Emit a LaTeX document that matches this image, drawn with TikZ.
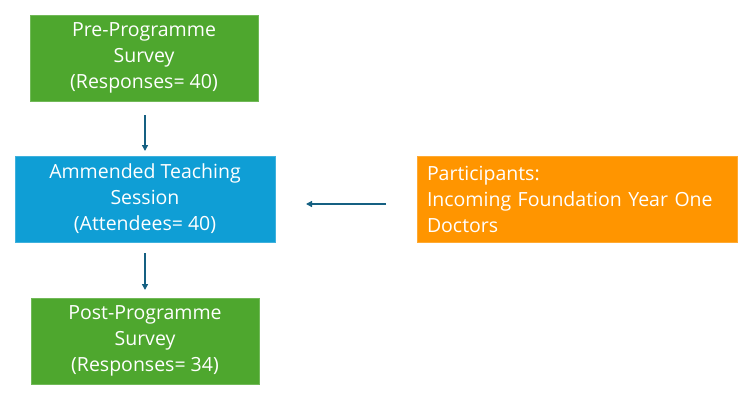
\documentclass[tikz,border=0pt]{standalone}
\usepackage{fontspec}
\setmainfont{Open Sans}
\usetikzlibrary{arrows.meta}
\definecolor{boxgreen}{HTML}{4EA72E}
\definecolor{boxblue}{HTML}{0F9ED5}
\definecolor{boxorange}{HTML}{FF9500}
\definecolor{arrowblue}{HTML}{156082}
\tikzset{
  box/.style={draw=#1!80!white, fill=#1, line width=0.8pt, inner sep=0pt, text=white,
    font=\fontsize{19.5}{26}\selectfont, align=center},
  conn/.style={draw=arrowblue, line width=1.3pt, -{Triangle[length=6pt,width=6pt]}},
}
\begin{document}
\begin{tikzpicture}[x=1pt,y=-1pt]
\useasboundingbox (0,0) rectangle (750,400);
\node[box=boxgreen, minimum width=228pt, minimum height=86pt] (pre) at (144,58) {Pre-Programme\\Survey\\(Responses= 40)};
\node[box=boxblue, minimum width=260pt, minimum height=86pt] (ats) at (145,199) {Ammended Teaching\\Session\\(Attendees= 40)};
\node[box=boxgreen, minimum width=228pt, minimum height=86pt] (post) at (145,341) {Post-Programme\\Survey\\(Responses= 34)};
\node[box=boxorange, minimum width=320pt, minimum height=86pt, align=left, text width=300pt] (part) at (577,199) {Participants:\\Incoming Foundation Year One\\Doctors};
\coordinate (a1s) at (145,115);
\coordinate (a1e) at (145,151);
\coordinate (a2s) at (145,253);
\coordinate (a2e) at (145,290);
\coordinate (a3s) at (386,204);
\coordinate (a3e) at (306,204);
\draw[conn] (a1s) -- (a1e);
\draw[conn] (a2s) -- (a2e);
\draw[conn] (a3s) -- (a3e);
\end{tikzpicture}
\end{document}
